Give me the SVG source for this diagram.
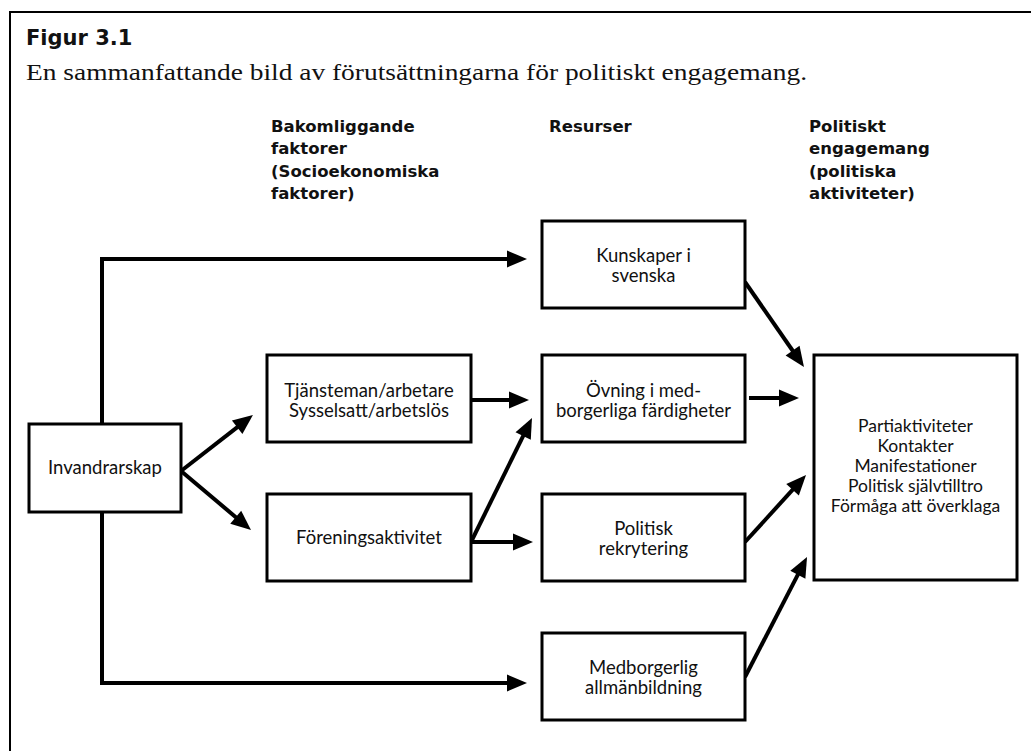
<svg xmlns="http://www.w3.org/2000/svg" width="1031" height="751" viewBox="0 0 1031 751">
<style>
.box{fill:#fff;stroke:#000;stroke-width:3}
.t{font-family:Lato,"Open Sans","DejaVu Sans",sans-serif;font-size:18.5px;fill:#111;text-anchor:middle}
.r{font-size:17.5px}
.h{font-family:"DejaVu Sans",Lato,sans-serif;font-size:16.5px;font-weight:bold;fill:#111}
.c{fill:none;stroke:#000;stroke-width:4;marker-end:url(#ah)}
</style>
<defs>
<marker id="ah" markerUnits="userSpaceOnUse" markerWidth="22" markerHeight="18" refX="6" refY="8.5" orient="auto" overflow="visible">
<path d="M0,0 L20,8.5 L0,17 z" fill="#000"/>
</marker>
</defs>
<rect x="0" y="0" width="1031" height="751" fill="#fff"/>
<path d="M10,751 V12 H1031" fill="none" stroke="#000" stroke-width="2"/>
<text x="26" y="45" style="font-family:'DejaVu Sans',Lato,sans-serif;font-size:21px;font-weight:bold;fill:#111">Figur 3.1</text>
<text x="26" y="80" textLength="781" lengthAdjust="spacingAndGlyphs" style="font-family:'Liberation Serif',serif;font-size:24px;fill:#111">En sammanfattande bild av förutsättningarna för politiskt engagemang.</text>
<g id="headers">
<text class="h" x="271" y="132">Bakomliggande</text>
<text class="h" x="271" y="154">faktorer</text>
<text class="h" x="271" y="177">(Socioekonomiska</text>
<text class="h" x="271" y="199">faktorer)</text>
<text class="h" x="549" y="132">Resurser</text>
<text class="h" x="809" y="132">Politiskt</text>
<text class="h" x="809" y="154">engagemang</text>
<text class="h" x="809" y="177">(politiska</text>
<text class="h" x="809" y="199">aktiviteter)</text>
</g>
<g id="connectors">
<path class="c" d="M102,424 V259 H513"/>
<path class="c" d="M102,512 V683 H513"/>
<path class="c" d="M181,471 L241.9,423.6"/>
<path class="c" d="M181,471 L240.3,521"/>
<path class="c" d="M471,400 L515,400"/>
<path class="c" d="M472,540 L525.8,430.6"/>
<path class="c" d="M472,542 L519,542"/>
<path class="c" d="M745,282 L796,355.5"/>
<path class="c" d="M749,398 L785,398"/>
<path class="c" d="M745,542 L796.6,485.4"/>
<path class="c" d="M745,677 L800.6,569.4"/>
</g>
<g id="invandrarskap">
<rect class="box" x="29" y="424" width="152" height="88"/>
<text class="t" x="105" y="474">Invandrarskap</text>
</g>
<g id="tjansteman">
<rect class="box" x="267" y="355" width="204" height="87"/>
<text class="t" x="369" y="397">Tjänsteman/arbetare</text>
<text class="t" x="369" y="417">Sysselsatt/arbetslös</text>
</g>
<g id="forening">
<rect class="box" x="267" y="494" width="204" height="87"/>
<text class="t" x="369" y="544">Föreningsaktivitet</text>
</g>
<g id="kunskaper">
<rect class="box" x="542" y="221" width="203" height="87"/>
<text class="t" x="643.5" y="262">Kunskaper i</text>
<text class="t" x="643.5" y="282">svenska</text>
</g>
<g id="ovning">
<rect class="box" x="542" y="355" width="203" height="87"/>
<text class="t" x="643.5" y="397">Övning i med-</text>
<text class="t" x="643.5" y="417">borgerliga färdigheter</text>
</g>
<g id="rekrytering">
<rect class="box" x="542" y="494" width="203" height="87"/>
<text class="t" x="643.5" y="535">Politisk</text>
<text class="t" x="643.5" y="555">rekrytering</text>
</g>
<g id="medborgerlig">
<rect class="box" x="542" y="633" width="203" height="87"/>
<text class="t" x="643.5" y="674">Medborgerlig</text>
<text class="t" x="643.5" y="694">allmänbildning</text>
</g>
<g id="engagemang">
<rect class="box" x="814" y="355" width="203" height="225"/>
<text class="t r" x="915.5" y="432">Partiaktiviteter</text>
<text class="t r" x="915.5" y="452">Kontakter</text>
<text class="t r" x="915.5" y="472">Manifestationer</text>
<text class="t r" x="915.5" y="492">Politisk självtilltro</text>
<text class="t r" x="915.5" y="512">Förmåga att överklaga</text>
</g>
</svg>
